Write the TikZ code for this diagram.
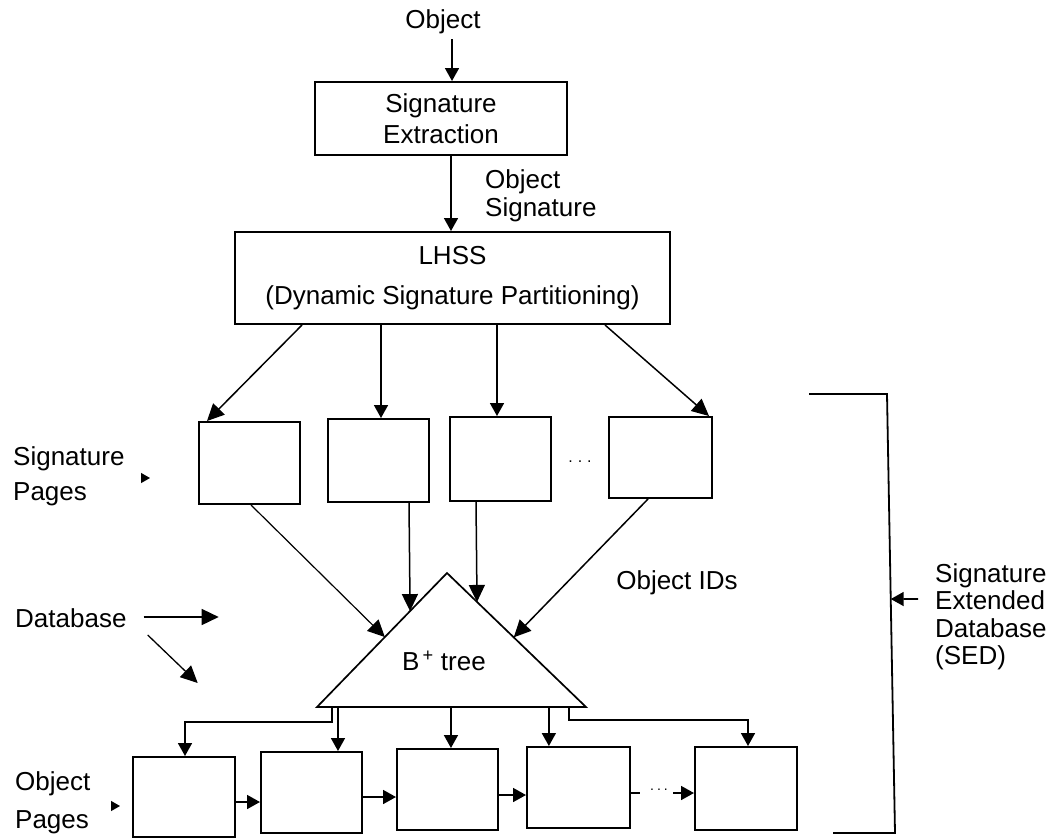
\documentclass[tikz,border=0pt]{standalone}
\usepackage{fontspec}
\setmainfont{Liberation Sans}
\usetikzlibrary{arrows.meta,calc}
\begin{document}
\begin{tikzpicture}[x=1pt,y=-1pt,
  box/.style={draw, line width=2pt, inner sep=0pt, align=center},
  arr/.style={-{Triangle[length=17pt,width=16pt]}, line width=1.5pt},
  sarr/.style={-{Triangle[length=13pt,width=14pt]}, line width=1.7pt},
  thin/.style={line width=1.7pt},
  tipmark/.style={-{Triangle[length=9pt,width=10pt]}, line width=1.2pt},
  txt/.style={inner sep=0pt, font=\fontsize{26}{30}\selectfont},
]
\useasboundingbox[fill=white] (0,0) rectangle (1060,839);

% top
\node[txt] (obj) at (443,22) {Object};
\node[box, minimum width=252pt, minimum height=73pt, font=\fontsize{26}{31}\selectfont] (se) at (441,118.5) {Signature\\Extraction};
\draw[sarr] ($(se.north)+(11,-42)$) -- ($(se.north)+(11,0)$);
\node[box, minimum width=435pt, minimum height=92pt, font=\fontsize{26}{40}\selectfont] (lhss) at (452.5,278) {LHSS\\(Dynamic Signature Partitioning)};
\draw[sarr] ($(se.south)+(10,0)$) -- ($(lhss.north)+(-1.5,0)$);
\node[txt, align=left, anchor=west, font=\fontsize{26}{28}\selectfont] (osl) at (485,196) {Object\\Signature};

% signature pages
\node[box, minimum width=101pt, minimum height=82pt] (p1) at (249.5,463) {};
\node[box, minimum width=101pt, minimum height=83pt] (p2) at (378.5,460.5) {};
\node[box, minimum width=101pt, minimum height=84pt] (p3) at (500.5,459) {};
\node[box, minimum width=103pt, minimum height=81pt] (p4) at (660.5,457.5) {};
\node[inner sep=0pt, font=\fontsize{16}{16}\selectfont] (dots1) at (580,462) {.\hspace{5pt}.\hspace{5pt}.};

\draw[arr] ($(lhss.south west)+(68,0)$) -- ($(p1.north west)+(9,0)$);
\draw[sarr] ($(lhss.south west)+(147,0)$) -- ($(p2.north west)+(54,0)$);
\draw[sarr] ($(lhss.south west)+(263,0)$) -- ($(p3.north west)+(48,0)$);
\draw[arr] ($(lhss.south west)+(371,0)$) -- ($(p4.north east)+(-4,0)$);

% B+ tree
\coordinate (tA) at (447,573);
\coordinate (tL) at (317,707);
\coordinate (tR) at (586,707);
\draw[line width=1.7pt, line join=miter] (tA) -- (tL) -- (tR) -- cycle;
\node[txt] (bt) at (444,661) {B\textsuperscript{\,+} tree};

\draw[arr, line width=1.2pt] ($(p1.south west)+(53,0)$) -- ($(tA)!0.478!(tL)$);
\draw[arr] ($(p2.south west)+(82,0)$) -- ($(tA)!0.284!(tL)$);
\draw[arr] ($(p3.south west)+(27,0)$) -- ($(tA)!0.216!(tR)$);
\draw[arr] ($(p4.south west)+(40,0)$) -- ($(tA)!0.48!(tR)$);

\node[txt] (oid) at (677,583) {Object IDs};

% object pages
\node[box, minimum width=102pt, minimum height=80pt] (o1) at (184,797) {};
\node[box, minimum width=101pt, minimum height=81pt] (o2) at (311.5,792.5) {};
\node[box, minimum width=101pt, minimum height=81pt] (o3) at (447.5,789.5) {};
\node[box, minimum width=103pt, minimum height=81pt] (o4) at (578.5,787.5) {};
\node[box, minimum width=102pt, minimum height=83pt] (o5) at (746,788.5) {};

\coordinate (b1) at ($(tL)!0.056!(tR)$);
\coordinate (b2) at ($(tL)!0.078!(tR)$);
\coordinate (b3) at ($(tL)!0.498!(tR)$);
\coordinate (b4) at ($(tL)!0.862!(tR)$);
\coordinate (b5) at ($(tL)!0.937!(tR)$);
\draw[sarr] (b1) -- ++(0,15) -| ($(o1.north west)+(53,0)$);
\draw[sarr] (b2) -- (b2 |- o2.north);
\draw[sarr] (b3) -- (b3 |- o3.north);
\draw[sarr] (b4) -- (b4 |- o4.north);
\draw[sarr] (b5) -- ++(0,13) -| ($(o5.north west)+(54,0)$);

\coordinate (h1) at ($(o1.east)+(0,5)$);
\coordinate (h2) at ($(o2.east)+(0,4.5)$);
\coordinate (h3) at ($(o3.east)+(0,5.5)$);
\coordinate (h4) at ($(o4.east)+(0,5.5)$);
\draw[sarr] (h1) -- (h1 -| o2.west);
\draw[sarr] (h2) -- (h2 -| o3.west);
\draw[sarr] (h3) -- (h3 -| o4.west);
\draw[thin] (h4) -- ++(9,0);
\node[inner sep=0pt, font=\fontsize{14}{14}\selectfont] (dots2) at ($(h4)+(28,-3)$) {.\hspace{3pt}.\hspace{3pt}.};
\coordinate (h5) at ($(h4)+(42,0)$);
\draw[sarr] (h5) -- (h5 -| o5.west);

% left labels
\node[txt, align=left, anchor=west, font=\fontsize{26}{35}\selectfont] (sp) at (13,476) {Signature\\Pages};
\coordinate (spt) at (150,478);
\draw[tipmark] ($(spt)+(-6,0)$) -- (spt);

\node[txt, anchor=west] (db) at (15,618) {Database};
\draw[arr] ($(db.east)+(17,-1)$) -- ++(75,0);
\draw[arr, line width=1.3pt] ($(db.east)+(21,17)$) -- ++(50,48);

\node[txt, align=left, anchor=west, font=\fontsize{26}{38}\selectfont] (op) at (15,803) {Object\\Pages};
\coordinate (opt) at (120,806);
\draw[tipmark] ($(opt)+(-6,0)$) -- (opt);

% SED bracket
\coordinate (k1) at (809,394);
\coordinate (k2) at (887,394);
\coordinate (k3) at (895,833);
\coordinate (k4) at (833,833);
\draw[line width=1.8pt] (k1) -- (k2) -- (k3) -- (k4);
\node[txt, align=left, anchor=west, font=\fontsize{26}{27.5}\selectfont] (sed) at (935,617) {Signature\\Extended\\Database\\(SED)};
\draw[sarr] ($(sed.west)+(-17,-18)$) -- ($(k2)!0.467!(k3)$);
\end{tikzpicture}
\end{document}
